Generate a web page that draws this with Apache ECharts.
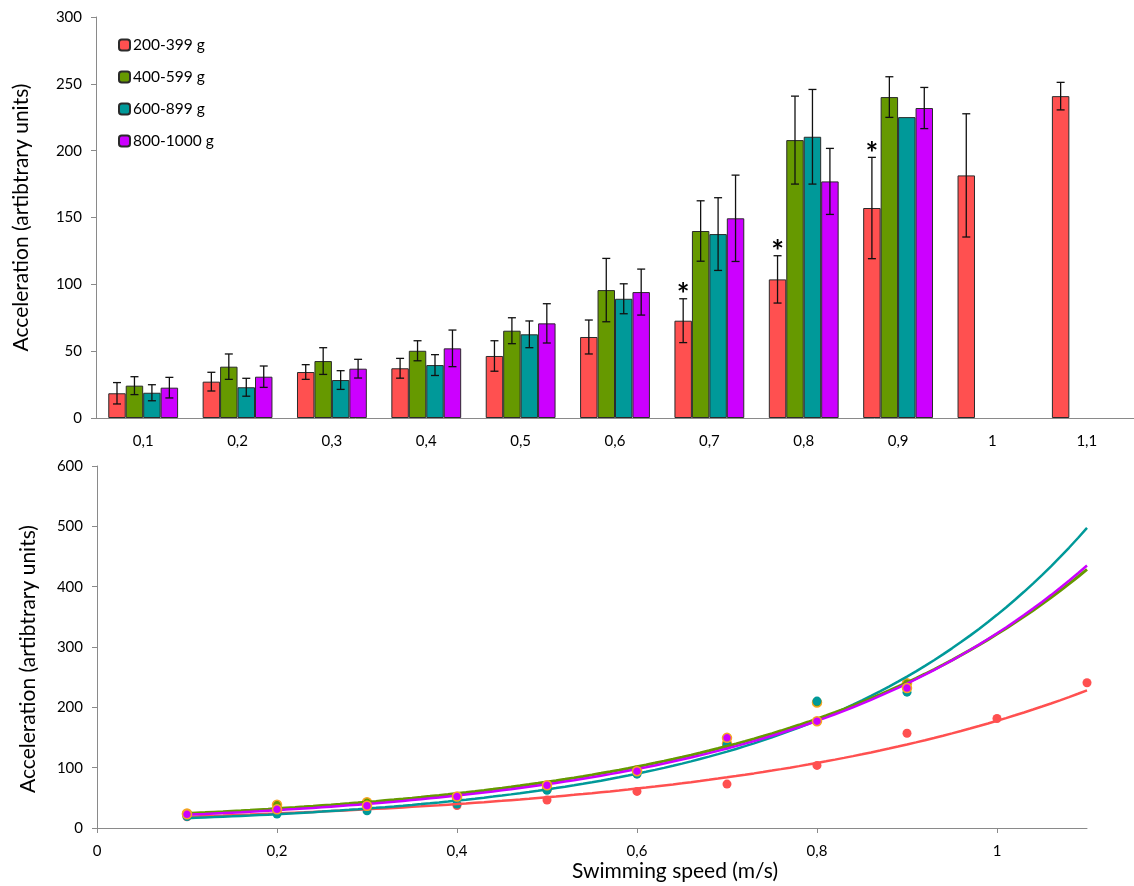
<!DOCTYPE html>
<html>
<head>
<meta charset="utf-8">
<script src="https://cdn.jsdelivr.net/npm/echarts@6/dist/echarts.min.js"></script>
<style>
  html, body { margin: 0; padding: 0; background: #fff; }
  #chart { width: 1134px; height: 886px; }
</style>
</head>
<body>
<div id="chart"></div>
<script>
// swimming speed categories (m/s)
const speedLabels = ['0,1', '0,2', '0,3', '0,4', '0,5', '0,6', '0,7', '0,8', '0,9', '1', '1,1']
const speeds = [0.1, 0.2, 0.3, 0.4, 0.5, 0.6, 0.7, 0.8, 0.9, 1.0, 1.1]
const groups = ['200-399 g', '400-599 g', '600-899 g', '800-1000 g']
const colors = ['#FF5050', '#669900', '#009999', '#CC00FF']

// mean acceleration per weight class
const mean200 = [18.5, 27.2, 34.4, 37.2, 46.4, 60.6, 72.8, 103.7, 157.1, 181.5, 240.8]
const mean400 = [24.2, 38.4, 42.6, 50.3, 65.3, 95.7, 139.9, 207.9, 240.1, null, null]
const mean600 = [18.9, 23.0, 28.4, 39.6, 62.6, 89.2, 137.6, 210.4, 225.1, null, null]
const mean800 = [22.7, 30.9, 36.9, 52.1, 70.8, 94.2, 149.4, 177.0, 231.9, null, null]

// error (+/-)
const err200 = [8.0, 7.0, 5.5, 7.4, 11.4, 12.7, 16.4, 17.7, 37.9, 46.1, 10.3]
const err400 = [6.7, 9.5, 10.0, 7.5, 9.7, 23.7, 22.6, 32.9, 15.2, null, null]
const err600 = [6.0, 6.7, 7.0, 7.8, 10.0, 11.2, 27.2, 35.4, null, null, null]
const err800 = [7.7, 8.0, 7.0, 13.7, 14.7, 17.2, 32.3, 24.7, 15.4, null, null]

// significance marks above the 200-399 g bars
const marks200 = ['', '', '', '', '', '', '*', '*', '*', '', '']

const means = [mean200, mean400, mean600, mean800]
const errs = [err200, err400, err600, err800]
const marks = [marks200, null, null, null]

const FONT = 'Lato, "Open Sans", sans-serif'
const AXIS_GRAY = '#8a8a8a'
const GROUP_FILL = 0.74 // share of a category used by the 4 bars

// Excel style exponential trendline: least squares on ln(y)
const expFit = (xs, ys) => {
  const pts = xs.map((x, i) => [x, ys[i]]).filter(p => p[1] != null && p[1] > 0)
  const n = pts.length
  const mx = pts.reduce((s, p) => s + p[0], 0) / n
  const my = pts.reduce((s, p) => s + Math.log(p[1]), 0) / n
  let num = 0, den = 0
  pts.forEach(p => {
    num += (p[0] - mx) * (Math.log(p[1]) - my)
    den += (p[0] - mx) * (p[0] - mx)
  })
  const b = num / den
  const a = Math.exp(my - b * mx)
  return x => a * Math.exp(b * x)
}

const trendLine = (ys) => {
  const f = expFit(speeds, ys)
  const out = []
  const x0 = speeds[0], x1 = speeds[speeds.length - 1]
  for (let i = 0; i <= 100; i++) {
    const x = x0 + (x1 - x0) * i / 100
    out.push([x, f(x)])
  }
  return out
}

const chart = echarts.init(document.getElementById('chart'))

const barSeries = groups.map((g, k) => ({
  name: g,
  type: 'bar',
  xAxisIndex: 0,
  yAxisIndex: 0,
  data: means[k],
  barGap: '0%',
  barCategoryGap: ((1 - GROUP_FILL) * 100) + '%',
  itemStyle: {color: colors[k], borderColor: '#2b2b2b', borderWidth: 1},
  emphasis: {disabled: true}
}))

const errorSeries = groups.map((g, k) => ({
  name: 'err ' + g,
  type: 'custom',
  xAxisIndex: 0,
  yAxisIndex: 0,
  z: 5,
  data: means[k].map((m, i) => [i, m, errs[k][i]]).filter(d => d[1] != null),
  renderItem: (params, api) => {
    const idx = api.value(0)
    const m = api.value(1)
    const e = api.value(2)
    const mark = marks[k] ? marks[k][idx] : ''
    const bw = api.size([1, 0])[0] * GROUP_FILL / 4
    const cx = api.coord([idx, m])[0] + (k - 1.5) * bw
    const children = []
    let topY = api.coord([idx, m])[1]
    if (e != null && !isNaN(e)) {
      topY = api.coord([idx, m + e])[1]
      const botY = api.coord([idx, m - e])[1]
      const cap = 4
      const st = {stroke: '#111', lineWidth: 1.3}
      children.push(
        {type: 'line', shape: {x1: cx, y1: topY, x2: cx, y2: botY}, style: st},
        {type: 'line', shape: {x1: cx - cap, y1: topY, x2: cx + cap, y2: topY}, style: st},
        {type: 'line', shape: {x1: cx - cap, y1: botY, x2: cx + cap, y2: botY}, style: st}
      )
    }
    if (mark) {
      children.push({
        type: 'text',
        style: {
          text: mark, x: cx, y: topY - 3,
          align: 'center', verticalAlign: 'middle',
          font: 'bold 30px ' + FONT, fill: '#000'
        }
      })
    }
    return {type: 'group', children}
  }
}))

const dotBorder = [null, '#F5A623', null, '#F5A623']
const scatterSeries = groups.map((g, k) => ({
  name: 'pts ' + g,
  type: 'scatter',
  xAxisIndex: 1,
  yAxisIndex: 1,
  symbolSize: 9,
  z: 3 + (k === 3 ? 1 : 0),
  data: speeds.map((x, i) => [x, means[k][i]]).filter(d => d[1] != null),
  itemStyle: {
    color: colors[k],
    opacity: 1,
    borderColor: dotBorder[k] || colors[k],
    borderWidth: dotBorder[k] ? 1.5 : 0
  }
}))

const lineOrder = [0, 2, 1, 3]
const fitSeries = lineOrder.map(k => ({
  name: 'fit ' + groups[k],
  type: 'line',
  xAxisIndex: 1,
  yAxisIndex: 1,
  showSymbol: false,
  z: 4,
  data: trendLine(means[k]),
  lineStyle: {color: colors[k], width: k === 1 ? 3 : 2.5}
}))

const axisLabelStyle = {color: '#000', fontSize: 15, fontFamily: FONT}
const nameStyle = {color: '#000', fontSize: 21, fontFamily: FONT}

const option = {
  animation: false,
  backgroundColor: '#fff',
  textStyle: {fontFamily: FONT},
  legend: {
    data: groups,
    orient: 'vertical',
    left: 113,
    top: 30,
    itemWidth: 11,
    itemHeight: 11,
    itemGap: 12,
    textStyle: {color: '#000', fontSize: 15.5, fontFamily: FONT, padding: [2, 0, 0, -2], lineHeight: 18}
  },
  grid: [
    {left: 96, top: 17, right: -8, bottom: 468},
    {left: 97, top: 466, right: 47, bottom: 58}
  ],
  xAxis: [
    {
      type: 'category',
      gridIndex: 0,
      data: speedLabels,
      axisLine: {lineStyle: {color: AXIS_GRAY}},
      axisTick: {length: 5, lineStyle: {color: AXIS_GRAY}},
      axisLabel: Object.assign({margin: 16}, axisLabelStyle)
    },
    {
      type: 'value',
      gridIndex: 1,
      min: 0,
      max: 1.1,
      interval: 0.2,
      splitLine: {show: false},
      axisLine: {lineStyle: {color: AXIS_GRAY}},
      axisTick: {show: true, length: 5, lineStyle: {color: AXIS_GRAY}},
      axisLabel: Object.assign({
        margin: 16,
        showMaxLabel: false,
        formatter: v => String(Math.round(v * 10) / 10).replace('.', ',')
      }, axisLabelStyle),
      name: 'Swimming speed (m/s)',
      nameLocation: 'middle',
      nameGap: 33,
      nameTextStyle: Object.assign({padding: [0, 0, 0, 166]}, nameStyle)
    }
  ],
  yAxis: [
    {
      type: 'value',
      gridIndex: 0,
      min: 0,
      max: 300,
      interval: 50,
      splitLine: {show: false},
      axisLine: {show: true, lineStyle: {color: AXIS_GRAY}},
      axisTick: {show: true, length: 5, lineStyle: {color: AXIS_GRAY}},
      axisLabel: Object.assign({margin: 14}, axisLabelStyle),
      name: 'Acceleration (artibtrary units)',
      nameLocation: 'middle',
      nameGap: 64,
      nameTextStyle: nameStyle
    },
    {
      type: 'value',
      gridIndex: 1,
      min: 0,
      max: 600,
      interval: 100,
      splitLine: {show: false},
      axisLine: {show: true, lineStyle: {color: AXIS_GRAY}},
      axisTick: {show: true, length: 5, lineStyle: {color: AXIS_GRAY}},
      axisLabel: Object.assign({margin: 14}, axisLabelStyle),
      name: 'Acceleration (artibtrary units)',
      nameLocation: 'middle',
      nameGap: 58,
      nameTextStyle: Object.assign({padding: [0, 24, 0, 0]}, nameStyle)
    }
  ],
  series: [...barSeries, ...errorSeries, ...fitSeries, ...scatterSeries]
}

chart.setOption(option)
</script>
</body>
</html>
